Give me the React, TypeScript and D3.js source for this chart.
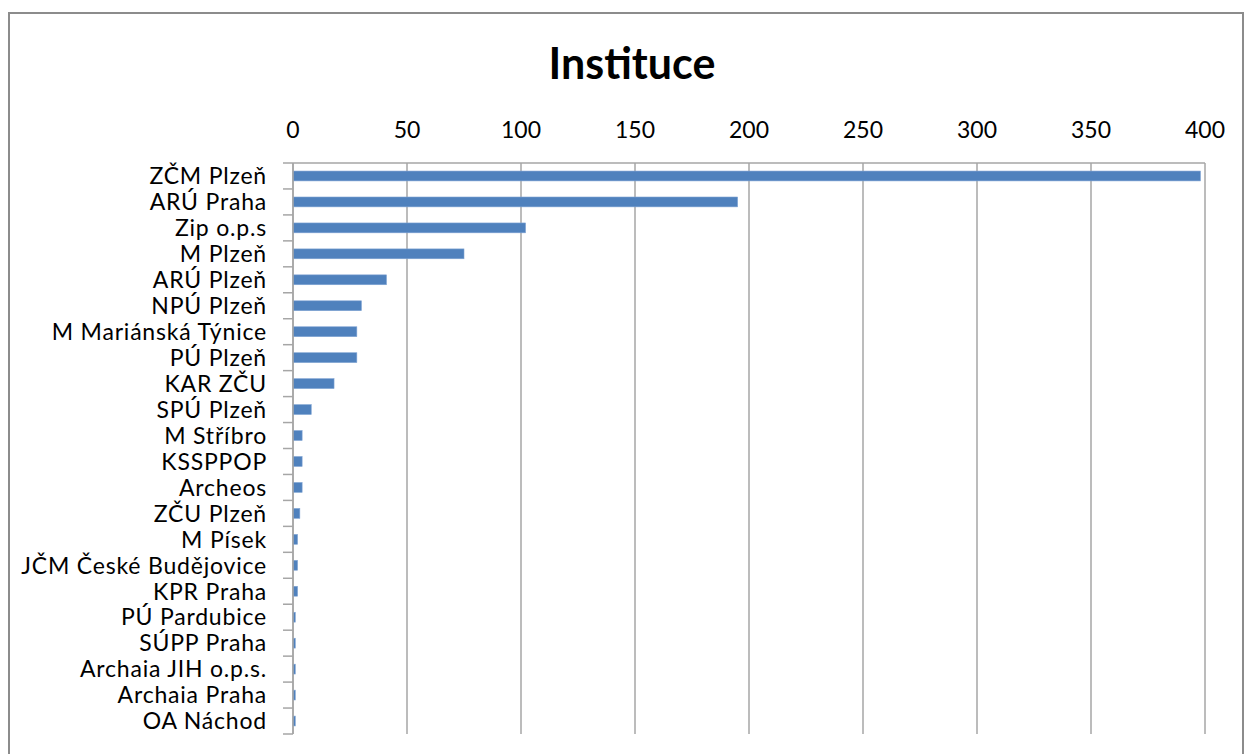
import React from "react";
import * as d3 from "d3";

const categories = [
  "ZČM Plzeň", "ARÚ Praha", "Zip o.p.s", "M Plzeň", "ARÚ Plzeň", "NPÚ Plzeň",
  "M Mariánská Týnice", "PÚ Plzeň", "KAR ZČU", "SPÚ Plzeň", "M Stříbro", "KSSPPOP",
  "Archeos", "ZČU Plzeň", "M Písek", "JČM České Budějovice", "KPR Praha",
  "PÚ Pardubice", "SÚPP Praha", "Archaia JIH o.p.s.", "Archaia Praha", "OA Náchod",
];
const values = [398, 195, 102, 75, 41, 30, 28, 28, 18, 8, 4, 4, 4, 3, 2, 2, 2, 1, 1, 1, 1, 1];
const xTicks = [0, 50, 100, 150, 200, 250, 300, 350, 400];
const title = "Instituce";

const W = 1245, H = 754;
const left = 293, right = 1205, top = 163, bottom = 734;
const gridColor = "#A6A6A6";
const barColor = "#4F81BD";
const font = "Lato, 'Open Sans', sans-serif";

export default function App() {
  const x = d3.scaleLinear().domain([0, 400]).range([left, right]);
  const y = d3.scaleBand<string>().domain(categories).range([top, bottom]).paddingInner(0.62).paddingOuter(0.31);
  const boundaries = d3.range(categories.length + 1).map((i) => top + i * ((bottom - top) / categories.length));
  return (
    <svg width={W} height={H} style={{ position: "absolute", left: 0, top: 0, background: "#fff" }}>
      <rect x={9} y={13} width={1234} height={760} fill="#fff" stroke="#8C8C8C" strokeWidth={2} />
      <text x={632} y={79} textAnchor="middle" fontFamily={font} fontWeight="bold" fontSize={43} fill="#000">
        {title}
      </text>
      {xTicks.map((t) => (
        <g key={t}>
          <line x1={x(t)} x2={x(t)} y1={top} y2={bottom} stroke={gridColor} strokeWidth={1.5} />
          <text x={x(t)} y={138} textAnchor="middle" fontFamily={font} fontSize={23} fill="#000">
            {t}
          </text>
        </g>
      ))}
      <line x1={left} x2={right} y1={top} y2={top} stroke={gridColor} strokeWidth={1.5} />
      {boundaries.map((b, i) => (
        <line key={i} x1={283} x2={left} y1={b} y2={b} stroke={gridColor} strokeWidth={1.5} />
      ))}
      {categories.map((c, i) => (
        <g key={c}>
          <rect
            x={x(0)}
            y={y(c)}
            width={x(values[i]) - x(0)}
            height={y.bandwidth()}
            fill={barColor}
            stroke="#7FA3D3"
            strokeWidth={0.6}
          />
          <text
            x={267}
            y={(y(c) as number) + y.bandwidth() / 2}
            dy="0.36em"
            textAnchor="end"
            fontFamily={font}
            fontSize={23}
            letterSpacing={0.8}
            fill="#000"
          >
            {c}
          </text>
        </g>
      ))}
      <line x1={left} x2={left} y1={top} y2={bottom} stroke={gridColor} strokeWidth={1.5} />
    </svg>
  );
}
